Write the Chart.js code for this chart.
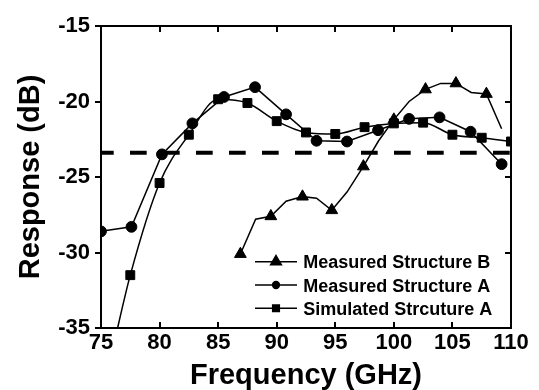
<!DOCTYPE html>
<html>
<head>
<meta charset="utf-8">
<script src="https://cdn.jsdelivr.net/npm/chart.js@4.4.1/dist/chart.umd.min.js"></script>
<style>
  body { margin: 0; background: #fff; }
  #wrap { width: 539px; height: 390px; }
</style>
</head>
<body>
<div id="wrap"><canvas id="chart"></canvas></div>
<script>
const xTicks = [75, 80, 85, 90, 95, 100, 105, 110];
const yTicks = [-35, -30, -25, -20, -15];
const seriesNames = ['Measured Structure B', 'Measured Structure A', 'Simulated Strcuture A'];

// Measured B: markers on every other sample, last sample has none
const measBFreq = [86.9, 88.2, 89.5, 90.8, 92.2, 93.4, 94.7, 96.0, 97.4, 98.7, 100.0, 101.3, 102.7, 104.0, 105.3, 106.6, 107.9, 109.2];
const measB = [-30.1, -27.8, -27.6, -26.6, -26.3, -26.4, -27.2, -26.0, -24.3, -22.6, -21.2, -20.0, -19.2, -18.8, -18.8, -19.4, -19.5, -21.8];

const measAFreq = [75.0, 77.6, 80.2, 82.8, 85.5, 88.15, 90.8, 93.4, 96.0, 98.65, 101.3, 103.9, 106.55, 109.2];
const measA = [-28.6, -28.3, -23.5, -21.45, -19.7, -19.05, -20.85, -22.6, -22.65, -21.9, -21.15, -21.05, -22.0, -24.15];

// Simulated A: first sample lies below the axis (no marker)
const simAFreq = [76.0, 77.5, 80.0, 82.5, 85.0, 87.5, 90.0, 92.5, 95.0, 97.5, 100.0, 102.5, 105.0, 107.5, 110.0];
const simA = [-36.4, -31.5, -25.4, -22.2, -19.85, -20.1, -21.3, -22.05, -22.15, -21.7, -21.45, -21.4, -22.2, -22.4, -22.65];

const refLevel = -23.4;

const FONT = "'Liberation Sans', Arial, sans-serif";

function pairs(xs, ys) {
    return xs.map((x, i) => ({ x: x, y: ys[i] }));
}

const setTicks = list => scale => { scale.ticks = list.map(v => ({ value: v })); };
const fixHeight = h => scale => { scale.height = h; scale.paddingLeft = 0; scale.paddingRight = 0; };
const fixWidth = w => scale => { scale.width = w; scale.paddingTop = 0; scale.paddingBottom = 0; };

const legendRows = [
    { label: seriesNames[0], style: 'triangle', r: 6.2 },
    { label: seriesNames[1], style: 'circle', r: 3.4 },
    { label: seriesNames[2], style: 'rect', r: 4.7 }
];

const insideLegend = {
    id: 'insideLegend',
    afterDatasetsDraw(chart) {
        const ctx = chart.ctx;
        const area = chart.chartArea;
        ctx.save();
        ctx.fillStyle = '#000';
        ctx.strokeStyle = '#000';
        ctx.font = 'bold 18px ' + FONT;
        ctx.textBaseline = 'alphabetic';
        legendRows.forEach((row, i) => {
            const y = area.bottom - 66.3 + i * 23.3;
            const x0 = area.right - 256;
            ctx.lineWidth = 1.5;
            ctx.beginPath();
            ctx.moveTo(x0, y);
            ctx.lineTo(x0 + 42, y);
            ctx.stroke();
            Chart.helpers.drawPoint(ctx, { pointStyle: row.style, radius: row.r, borderWidth: 1, rotation: 0 }, x0 + 21, y);
            ctx.fillText(row.label, x0 + 48.3, y + 6.7);
        });
        ctx.restore();
    }
};

const axisBase = {
    type: 'linear',
    border: { display: true, color: '#000', width: 2 },
    grid: { drawOnChartArea: false, color: '#000', lineWidth: 2, tickLength: -6 },
    ticks: { display: false }
};

new Chart(document.getElementById('chart'), {
    type: 'line',
    data: {
        datasets: [
            {
                label: 'level',
                data: [{ x: 75, y: refLevel }, { x: 110, y: refLevel }],
                borderColor: '#000',
                borderWidth: 4,
                borderDash: [16.7, 16.3],
                borderDashOffset: 4,
                pointRadius: 0,
                tension: 0
            },
            {
                label: seriesNames[0],
                data: pairs(measBFreq, measB),
                borderColor: '#000',
                backgroundColor: '#000',
                borderWidth: 1.5,
                pointStyle: 'triangle',
                pointRadius: ctx => (ctx.dataIndex % 2 === 0 && ctx.dataIndex < measB.length - 1) ? 6.8 : 0,
                pointBorderWidth: 1,
                tension: 0
            },
            {
                label: seriesNames[1],
                data: pairs(measAFreq, measA),
                borderColor: '#000',
                backgroundColor: '#000',
                borderWidth: 1.5,
                pointStyle: 'circle',
                pointRadius: 5.4,
                pointBorderWidth: 1,
                tension: 0
            },
            {
                label: seriesNames[2],
                data: pairs(simAFreq, simA),
                borderColor: '#000',
                backgroundColor: '#000',
                borderWidth: 1.5,
                pointStyle: 'rect',
                pointRadius: ctx => ctx.dataIndex === 0 ? 0 : 6.3,
                pointBorderWidth: 1,
                cubicInterpolationMode: 'monotone'
            }
        ]
    },
    options: {
        responsive: true,
        maintainAspectRatio: false,
        animation: false,
        layout: { padding: 0 },
        plugins: {
            legend: { display: false },
            tooltip: { enabled: false }
        },
        scales: {
            x: {
                type: 'linear',
                position: 'bottom',
                min: 75,
                max: 110,
                afterBuildTicks: setTicks(xTicks),
                afterFit: fixHeight(62),
                border: { display: true, color: '#000', width: 2 },
                grid: { drawOnChartArea: false, color: '#000', lineWidth: 2, tickLength: -6 },
                ticks: {
                    color: '#000',
                    padding: 8,
                    maxRotation: 0,
                    autoSkip: false,
                    font: { family: FONT, size: 22, weight: 'bold' }
                },
                title: {
                    display: true,
                    text: 'Frequency (GHz)',
                    color: '#000',
                    padding: { top: 0, bottom: -3 },
                    font: { family: FONT, size: 29, weight: 'bold' }
                }
            },
            x2: Object.assign({}, axisBase, {
                position: 'top',
                min: 75,
                max: 110,
                afterBuildTicks: setTicks(xTicks),
                afterFit: fixHeight(26)
            }),
            y: {
                type: 'linear',
                position: 'left',
                min: -35,
                max: -15,
                afterBuildTicks: setTicks(yTicks),
                afterFit: fixWidth(101),
                border: { display: true, color: '#000', width: 2 },
                grid: { drawOnChartArea: false, color: '#000', lineWidth: 2, tickLength: 6 },
                ticks: {
                    color: '#000',
                    padding: 5,
                    autoSkip: false,
                    font: { family: FONT, size: 22, weight: 'bold' }
                },
                title: {
                    display: true,
                    text: 'Response (dB)',
                    color: '#000',
                    padding: { top: 14, bottom: 0 },
                    font: { family: FONT, size: 29, weight: 'bold' }
                }
            },
            y2: Object.assign({}, axisBase, {
                position: 'right',
                min: -35,
                max: -15,
                afterBuildTicks: setTicks(yTicks),
                afterFit: fixWidth(28)
            })
        }
    },
    plugins: [insideLegend]
});
</script>
</body>
</html>
